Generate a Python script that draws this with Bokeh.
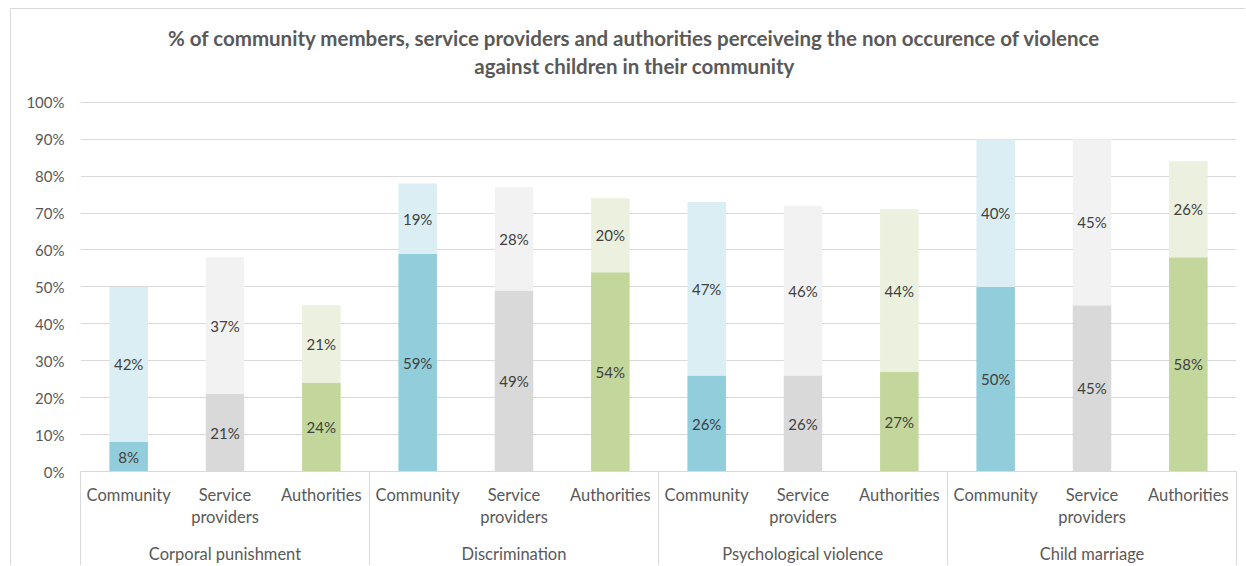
from bokeh.plotting import figure
from bokeh.models import (ColumnDataSource, FixedTicker, LinearAxis, Range1d,
                          NumeralTickFormatter)
from bokeh.core.properties import value
from bokeh.embed import file_html
from bokeh.resources import INLINE

# ---------------- data ----------------
groups = ["Corporal punishment", "Discrimination", "Psychological violence", "Child marriage"]
respondents = ["Community", "Service\nproviders", "Authorities"]
# lower (darker) segment values, in %
base_vals = [8, 21, 24, 59, 49, 54, 26, 26, 27, 50, 45, 58]
# upper (lighter) segment values, in %
upper_vals = [42, 37, 21, 19, 28, 20, 47, 46, 44, 40, 45, 26]
dark_colors = ["#92CDDC", "#D9D9D9", "#C3D69B"]
light_colors = ["#DAEEF3", "#F2F2F2", "#EBF1DE"]
title_lines = ["% of community members, service providers and authorities perceiveing the non occurence of violence",
               "against children in their community"]

FONT = "Lato"
TXT = "#595959"
GRID = "#D9D9D9"

n_resp = len(respondents)
xs, sub_labels, b, u, dc, lc = [], [], [], [], [], []
for gi, g in enumerate(groups):
    for ri, r in enumerate(respondents):
        k = gi * n_resp + ri
        xs.append(k + 1)
        sub_labels.append(r)
        b.append(base_vals[k] / 100)
        u.append(upper_vals[k] / 100)
        dc.append(dark_colors[ri])
        lc.append(light_colors[ri])

src = ColumnDataSource(dict(
    x=xs, b=b, u=u, tot=[bb + uu for bb, uu in zip(b, u)],
    dc=dc, lc=lc,
    by=[bb / 2 for bb in b], uy=[bb + uu / 2 for bb, uu in zip(b, u)],
    bt=[f"{v}%" for v in base_vals], ut=[f"{v}%" for v in upper_vals],
))

# layout (pixels): 0..100 % spans 370 px; 93 px of title room above 100 %
FRAME_W, PLOT_H, TOP_ROOM = 1156, 370, 93
p = figure(width=1235, height=557, output_backend="svg", toolbar_location=None,
           x_range=Range1d(0.5, len(xs) + 0.5), y_range=Range1d(0, 1 + TOP_ROOM / PLOT_H),
           min_border_left=69, min_border_right=10, min_border_top=0, min_border_bottom=0,
           x_axis_location=None, y_axis_location=None, title=None)
p.outline_line_color = None
p.background_fill_color = "white"
p.border_fill_color = "white"

p.vbar(x="x", bottom=0, top="b", width=0.4, fill_color="dc", line_color=None, source=src)
p.vbar(x="x", bottom="b", top="tot", width=0.4, fill_color="lc", line_color=None, source=src)

p.text(x="x", y="by", text="bt", source=src, text_align="center", text_baseline="middle",
       text_font=value(FONT), text_font_size="15px", text_color="#404040")
p.text(x="x", y="uy", text="ut", source=src, text_align="center", text_baseline="middle",
       text_font=value(FONT), text_font_size="15px", text_color="#404040")

# y axis
yax = LinearAxis(ticker=FixedTicker(ticks=[i / 10 for i in range(11)]),
                 formatter=NumeralTickFormatter(format="0%"))
yax.axis_line_color = None
yax.major_tick_line_color = None
yax.minor_tick_line_color = None
yax.major_tick_out = 0
yax.major_label_standoff = 16
yax.major_label_text_font = FONT
yax.major_label_text_font_size = "15px"
yax.major_label_text_color = TXT
p.add_layout(yax, "left")

p.ygrid.ticker = FixedTicker(ticks=[i / 10 for i in range(1, 11)])
p.ygrid.grid_line_color = GRID
p.xgrid.grid_line_color = None

# x axis: respondents, with group separators drawn as long minor ticks
sep = [gi * n_resp + 0.5 for gi in range(len(groups) + 1)]
SEP_LEN = 94
xax = LinearAxis(ticker=FixedTicker(ticks=xs, minor_ticks=sep))
xax.major_label_overrides = {x: s for x, s in zip(xs, sub_labels)}
xax.axis_line_color = GRID
xax.major_tick_line_color = None
xax.major_tick_out = 0
xax.major_tick_in = 0
xax.minor_tick_line_color = GRID
xax.minor_tick_out = SEP_LEN
xax.minor_tick_in = 0
xax.major_label_standoff = 13 - SEP_LEN
xax.major_label_text_font = FONT
xax.major_label_text_font_size = "16.5px"
xax.major_label_text_line_height = 1.1
xax.major_label_text_color = TXT
p.add_layout(xax, "below")

# x axis: groups
gx = [gi * n_resp + (n_resp + 1) / 2 for gi in range(len(groups))]
gax = LinearAxis(ticker=FixedTicker(ticks=gx, minor_ticks=[]))
gax.major_label_overrides = {x: g for x, g in zip(gx, groups)}
gax.axis_line_color = None
gax.major_tick_line_color = None
gax.major_tick_out = 0
gax.major_tick_in = 0
gax.minor_tick_line_color = None
gax.minor_tick_out = 0
gax.minor_tick_in = 0
gax.major_label_standoff = 14
gax.major_label_text_font = FONT
gax.major_label_text_font_size = "16.5px"
gax.major_label_text_color = TXT
p.add_layout(gax, "below")

# title: two centred lines in the room above 100 %
px_per_x = FRAME_W / len(xs)
title_x = 0.5 + (FRAME_W / 2 - 24) / px_per_x
p.text(x=[title_x, title_x], y=[1 + 64 / PLOT_H, 1 + 36 / PLOT_H], text=title_lines,
       text_align="center", text_baseline="middle",
       text_font=value(FONT), text_font_size="20.5px", text_font_style="bold",
       text_color=TXT)

p.styles = {"margin-left": "10px", "margin-top": "8px",
            "border-top": "1px solid #D9D9D9", "border-left": "1px solid #D9D9D9"}

open("out.html", "w").write(file_html(p, INLINE))
